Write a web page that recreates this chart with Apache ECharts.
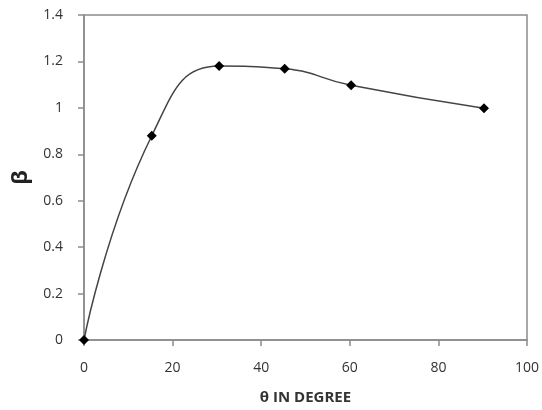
<!DOCTYPE html>
<html><head><meta charset="utf-8">
<script src="https://cdn.jsdelivr.net/npm/echarts@6/dist/echarts.min.js"></script>
<style>html,body{margin:0;padding:0;background:#fff}#c{width:542px;height:410px}</style>
</head><body><div id="c"></div>
<script>
const thetaDeg = [0, 15.3, 30.5, 45.3, 60.3, 90.3];
const betaVals = [0, 0.88, 1.18, 1.168, 1.097, 0.998];
const xTicks = [0, 20, 40, 60, 80, 100];
const yTicks = [0, 0.2, 0.4, 0.6, 0.8, 1, 1.2, 1.4];

const chart = echarts.init(document.getElementById('c'));
const axisCol = '#8c8c8c';
const font = 'Open Sans, Liberation Sans, sans-serif';
chart.setOption({
  animation: false,
  grid: {left: 84, right: 13, top: 15, bottom: 70, show: true, borderColor: axisCol, borderWidth: 1.5},
  xAxis: {
    type: 'value', min: xTicks[0], max: xTicks[xTicks.length-1], interval: 20,
    name: 'θ IN DEGREE', nameLocation: 'middle', nameGap: 50,
    nameTextStyle: {fontSize: 15, fontWeight: 'bold', color: '#333', fontFamily: font},
    axisLine: {lineStyle: {color: axisCol, width: 1.5}},
    axisTick: {show: true, length: 6, lineStyle: {color: axisCol, width: 1.5}},
    axisLabel: {fontSize: 14, color: '#333', margin: 21, fontFamily: font},
    splitLine: {show: false}
  },
  yAxis: {
    type: 'value', min: yTicks[0], max: yTicks[yTicks.length-1], interval: 0.2,
    name: 'β', nameLocation: 'middle', nameGap: 52, nameRotate: 90,
    nameTextStyle: {fontSize: 22, fontWeight: 'bold', color: '#222', fontFamily: font},
    axisLine: {show: true, lineStyle: {color: axisCol, width: 1.5}},
    axisTick: {show: true, length: 6, lineStyle: {color: axisCol, width: 1.5}},
    axisLabel: {fontSize: 14, color: '#333', margin: 21, fontFamily: font},
    splitLine: {show: false}
  },
  series: [{
    type: 'line',
    data: thetaDeg.map((x, i) => [x, betaVals[i]]),
    smooth: 0.5,
    symbol: 'diamond', symbolSize: 10,
    itemStyle: {color: '#000'},
    lineStyle: {color: '#444', width: 1.5}
  }]
});
</script></body></html>
